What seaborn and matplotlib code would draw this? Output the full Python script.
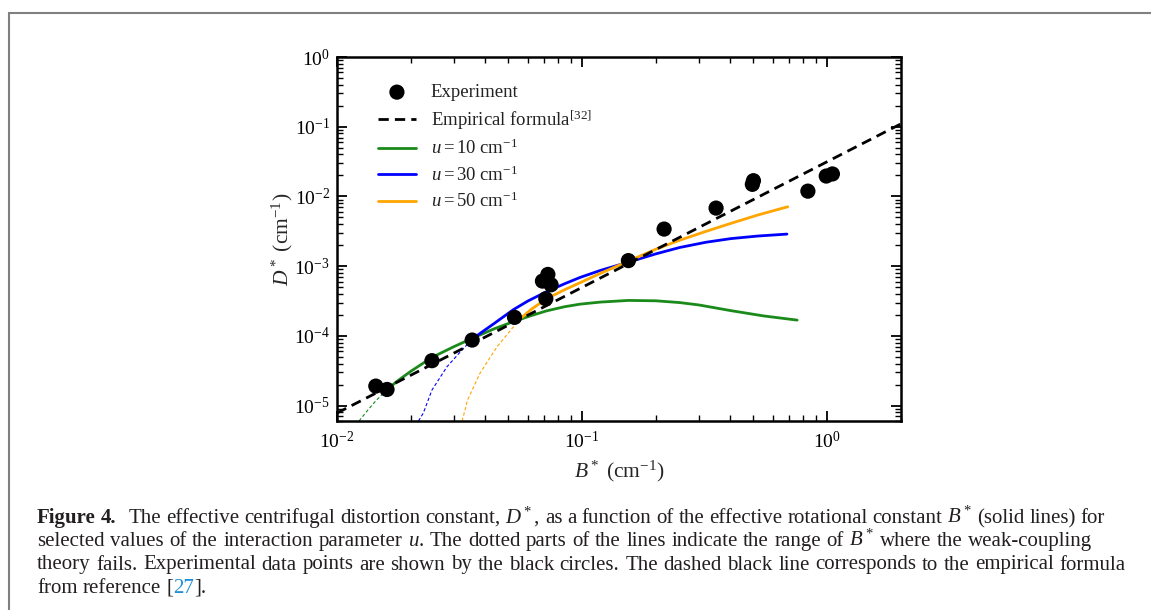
import numpy as np
import pandas as pd
import matplotlib
matplotlib.use("Agg")
import matplotlib.pyplot as plt
from matplotlib.lines import Line2D
from matplotlib.ticker import LogLocator, NullFormatter, FuncFormatter
import seaborn as sns

# ---------------- data ----------------
# Experimental values (B*, D*) in cm^-1
exp_B = [0.0144, 0.0160, 0.0244, 0.0356, 0.0530, 0.0711, 0.0689, 0.0725, 0.0747,
         0.1545, 0.216, 0.352, 0.500, 0.495, 0.834, 0.991, 1.05]
exp_D = [1.9e-5, 1.7e-5, 4.4e-5, 8.7e-5, 1.84e-4, 3.4e-4, 6.1e-4, 7.6e-4, 5.4e-4,
         1.2e-3, 3.4e-3, 6.8e-3, 1.68e-2, 1.49e-2, 1.19e-2, 1.96e-2, 2.1e-2]

# Empirical power law (straight on log-log axes)
emp_B = [0.01, 2.0]
emp_D = [7.8e-6, 0.11]

# u = 10 cm^-1 : weak-coupling breakdown part, then valid part
u10_fail_B = [0.0123, 0.0135, 0.0145, 0.0160]
u10_fail_D = [6.0e-6, 9.0e-6, 1.2e-5, 1.69e-5]
u10_B = [0.0160, 0.0175, 0.020, 0.0244, 0.030, 0.0356, 0.044, 0.053, 0.062, 0.0716,
         0.085, 0.0983, 0.119, 0.1545, 0.20, 0.25, 0.30, 0.404, 0.55, 0.754]
u10_D = [1.69e-5, 2.2e-5, 3.1e-5, 4.9e-5, 7.0e-5, 9.2e-5, 1.27e-4, 1.62e-4, 1.95e-4, 2.28e-4,
         2.62e-4, 2.85e-4, 3.05e-4, 3.22e-4, 3.18e-4, 3.0e-4, 2.77e-4, 2.3e-4, 1.93e-4, 1.68e-4]

# u = 30 cm^-1
u30_fail_B = [0.0215, 0.0225, 0.0244, 0.0281, 0.0328, 0.0356]
u30_fail_D = [6.0e-6, 7.8e-6, 1.67e-5, 3.6e-5, 6.6e-5, 8.9e-5]
u30_B = [0.0356, 0.039, 0.0435, 0.048, 0.0525, 0.060, 0.0716, 0.085, 0.0983, 0.119,
         0.1545, 0.20, 0.25, 0.32, 0.404, 0.52, 0.685]
u30_D = [8.9e-5, 1.13e-4, 1.48e-4, 1.9e-4, 2.38e-4, 3.15e-4, 4.3e-4, 5.6e-4, 6.9e-4, 8.7e-4,
         1.14e-3, 1.5e-3, 1.85e-3, 2.2e-3, 2.48e-3, 2.7e-3, 2.88e-3]

# u = 50 cm^-1
u50_fail_B = [0.0324, 0.0341, 0.0383, 0.0450, 0.0525, 0.0542]
u50_fail_D = [6.0e-6, 1.2e-5, 2.9e-5, 7.0e-5, 1.35e-4, 1.6e-4]
u50_B = [0.0542, 0.062, 0.0716, 0.085, 0.0983, 0.119, 0.1545, 0.20, 0.25, 0.32,
         0.404, 0.52, 0.69]
u50_D = [1.6e-4, 2.4e-4, 3.4e-4, 4.6e-4, 5.8e-4, 7.9e-4, 1.18e-3, 1.75e-3, 2.35e-3, 3.15e-3,
         4.1e-3, 5.4e-3, 7.1e-3]

labels = ["Experiment", "Empirical formula$^{[32]}$",
          "$u = 10\\ \\mathrm{cm}^{-1}$", "$u = 30\\ \\mathrm{cm}^{-1}$",
          "$u = 50\\ \\mathrm{cm}^{-1}$"]
colors = {"u10": "#1a8a1a", "u30": "#0000ff", "u50": "#ffa500"}

# ---------------- style ----------------
sns.set_theme(style="ticks")
plt.rcParams.update({
    "font.family": ["Liberation Serif", "DejaVu Serif"],
    "mathtext.fontset": "custom",
    "mathtext.rm": "Liberation Serif",
    "mathtext.it": "Liberation Serif:italic",
    "mathtext.bf": "Liberation Serif:bold",
    "axes.linewidth": 1.8,
    "axes.edgecolor": "black",
    "xtick.direction": "in",
    "ytick.direction": "in",
    "xtick.top": True,
    "ytick.right": True,
    "xtick.color": "black",
    "ytick.color": "black",
})

W, H = 1151, 610
fig = plt.figure(figsize=(W / 100, H / 100), dpi=100)
fig.patch.set_facecolor("white")

ax = fig.add_axes([337 / W, 1 - 421 / H, (901 - 337) / W, (421 - 57) / H])
ax.set_xscale("log")
ax.set_yscale("log")
ax.set_facecolor("white")

# thin dashed segments where the weak-coupling theory breaks down
for key, fb, fd in [("u10", u10_fail_B, u10_fail_D),
                    ("u30", u30_fail_B, u30_fail_D),
                    ("u50", u50_fail_B, u50_fail_D)]:
    sns.lineplot(x=fb, y=fd, ax=ax, sort=False, estimator=None,
                 color=colors[key], lw=0.8, zorder=2)
    ax.get_lines()[-1].set_dashes((3, 2))

sns.lineplot(x=u10_B, y=u10_D, ax=ax, sort=False, estimator=None,
             color=colors["u10"], lw=2.0, label=labels[2], zorder=3)
sns.lineplot(x=u30_B, y=u30_D, ax=ax, sort=False, estimator=None,
             color=colors["u30"], lw=2.0, label=labels[3], zorder=3)
sns.lineplot(x=u50_B, y=u50_D, ax=ax, sort=False, estimator=None,
             color=colors["u50"], lw=2.0, label=labels[4], zorder=3)
sns.lineplot(x=emp_B, y=emp_D, ax=ax, sort=False, estimator=None,
             color="black", lw=2.0, label=labels[1], zorder=4)
ax.get_lines()[-1].set_dashes((3.7, 2.2))
sns.scatterplot(x=exp_B, y=exp_D, ax=ax, s=120, color="black", edgecolor="none",
                label=labels[0], zorder=5)

ax.set_xlim(0.01, 2.0)
ax.set_ylim(6e-6, 1.0)

for axis in (ax.xaxis, ax.yaxis):
    axis.set_major_locator(LogLocator(base=10, numticks=20))
    axis.set_minor_locator(LogLocator(base=10, subs=np.arange(2, 10), numticks=100))
    axis.set_minor_formatter(NullFormatter())
    axis.set_major_formatter(FuncFormatter(
        lambda v, _: "$10^{%d}$" % int(round(np.log10(v)))))

ax.tick_params(which="major", length=7, width=1.3, labelsize=14, pad=5)
ax.tick_params(which="minor", length=4, width=1.0)
ax.tick_params(axis="x", which="major", pad=7)

ax.set_xlabel("$B^*$ (cm$^{-1}$)", fontsize=15.5, labelpad=5)
ax.set_ylabel("$D^*$ (cm$^{-1}$)", fontsize=15.5, labelpad=-1)

handles, labs = ax.get_legend_handles_labels()
lookup = dict(zip(labs, handles))
leg = ax.legend([lookup[l] for l in labels], labels, loc="upper left",
                bbox_to_anchor=(0.073, 0.926), frameon=False, fontsize=13.5,
                borderpad=0, borderaxespad=0, handlelength=2.0,
                handletextpad=0.8, labelspacing=0.38, scatterpoints=1)
for t in leg.get_texts():
    t.set_color("#222222")

# ---------------- page frame and caption ----------------
fig.add_artist(Line2D([8.5 / W, 8.5 / W], [1 - 12.5 / H, 0], transform=fig.transFigure,
                      color="#808080", lw=1.5))
fig.add_artist(Line2D([8.5 / W, 1.0], [1 - 12.5 / H, 1 - 12.5 / H], transform=fig.transFigure,
                      color="#808080", lw=1.5))

renderer = fig.canvas.get_renderer()
cap_color = "#231f20"
cap_size = 15.0
space_px = 0.25 * cap_size * 100 / 72


def caption_line(x_start, baseline, tokens, x_end=None):
    """Set one caption line word by word; optionally spread words to end at x_end.

    tokens: (word, style dict, gap_before) with gap_before in {0, 1, 'wide'}"""
    arts, widths = [], []
    for word, style, _ in tokens:
        style = dict(style)
        t = fig.text(0, 1 - baseline / H, word, fontsize=cap_size, va="baseline",
                     ha="left", color=style.pop("color", cap_color), **style)
        arts.append(t)
        widths.append(t.get_window_extent(renderer).width)
    gaps = [g for _, _, g in tokens[1:]]
    n_sp = sum(1 for g in gaps if g)
    base = [0 if not g else (space_px + 8 if g == "wide" else space_px) for g in gaps]
    extra = 0.0
    if x_end is not None and n_sp:
        extra = (x_end - x_start - sum(widths) - sum(base)) / n_sp
    x = x_start
    for i, t in enumerate(arts):
        if i > 0:
            g = gaps[i - 1]
            x += base[i - 1] + (extra if g else 0)
        t.set_x(x / W)
        x += widths[i]


def words(text, style=None, first_gap=1):
    style = style or {}
    out = []
    for i, w in enumerate(text.split(" ")):
        out.append((w, style, first_gap if i == 0 else 1))
    return out


bold = dict(fontweight="bold")
caption_line(37, 523,
             words("Figure 4.", bold, 0)
             + words("The effective centrifugal distortion constant, $D^*$, as a function "
                     "of the effective rotational constant $B^*$ (solid lines) for",
                     first_gap="wide"),
             x_end=1105)
caption_line(37, 546,
             words("selected values of the interaction parameter $u$. The dotted parts of "
                   "the lines indicate the range of $B^*$ where the weak-coupling", None, 0),
             x_end=1092)
caption_line(37, 569.5,
             words("theory fails. Experimental data points are shown by the black circles. "
                   "The dashed black line corresponds to the empirical formula", None, 0),
             x_end=1126)
caption_line(37, 593,
             words("from reference [", None, 0)
             + [("27", dict(color="#1f8fd6"), 0), ("].", {}, 0)])

fig.savefig("out.png", dpi=100, facecolor="white")
